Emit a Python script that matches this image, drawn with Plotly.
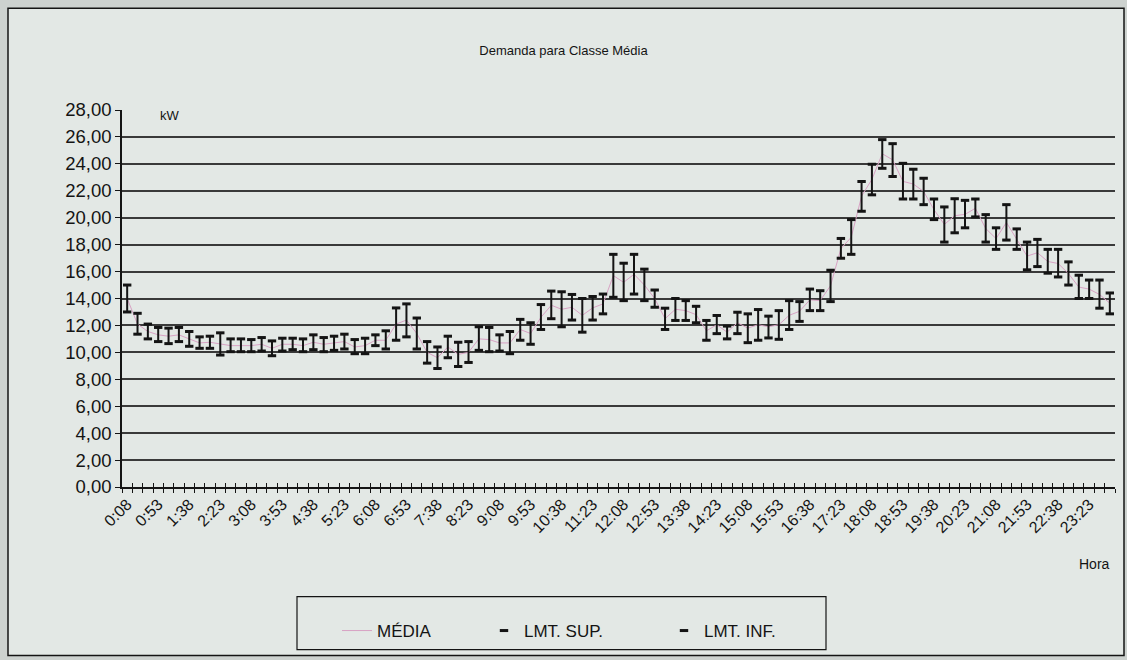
import plotly.graph_objects as go

# Categorias: horários de medição a cada 15 minutos
horas = [
    "0:08", "0:23", "0:38", "0:53", "1:08", "1:23", "1:38", "1:53", "2:08", "2:23", "2:38", "2:53",
    "3:08", "3:23", "3:38", "3:53", "4:08", "4:23", "4:38", "4:53", "5:08", "5:23", "5:38", "5:53",
    "6:08", "6:23", "6:38", "6:53", "7:08", "7:23", "7:38", "7:53", "8:08", "8:23", "8:38", "8:53",
    "9:08", "9:23", "9:38", "9:53", "10:08", "10:23", "10:38", "10:53", "11:08", "11:23", "11:38", "11:53",
    "12:08", "12:23", "12:38", "12:53", "13:08", "13:23", "13:38", "13:53", "14:08", "14:23", "14:38", "14:53",
    "15:08", "15:23", "15:38", "15:53", "16:08", "16:23", "16:38", "16:53", "17:08", "17:23", "17:38", "17:53",
    "18:08", "18:23", "18:38", "18:53", "19:08", "19:23", "19:38", "19:53", "20:08", "20:23", "20:38", "20:53",
    "21:08", "21:23", "21:38", "21:53", "22:08", "22:23", "22:38", "22:53", "23:08", "23:23", "23:38", "23:53",
]

# Rótulos exibidos no eixo horizontal (a cada 45 minutos)
rotulos_x = [
    "0:08", "0:53", "1:38", "2:23", "3:08", "3:53", "4:38", "5:23", "6:08", "6:53", "7:38", "8:23",
    "9:08", "9:53", "10:38", "11:23", "12:08", "12:53", "13:38", "14:23", "15:08", "15:53", "16:38",
    "17:23", "18:08", "18:53", "19:38", "20:23", "21:08", "21:53", "22:38", "23:23",
]

# Limite superior da demanda (kW)
lmt_sup = [
    15.00, 12.90, 12.10, 11.85, 11.80, 11.85, 11.55, 11.15, 11.20, 11.45, 11.00, 11.00,
    10.95, 11.10, 10.85, 11.05, 11.05, 11.00, 11.30, 11.10, 11.20, 11.35, 10.95, 11.05,
    11.30, 11.60, 13.30, 13.60, 12.55, 10.80, 10.40, 11.20, 10.75, 10.80, 11.90, 11.85,
    11.30, 11.55, 12.45, 12.20, 13.55, 14.55, 14.50, 14.30, 14.00, 14.15, 14.33, 17.28,
    16.62, 17.28, 16.18, 14.63, 13.28, 14.00, 13.84, 13.42, 12.37, 12.74, 11.95, 12.98,
    12.86, 13.18, 12.69, 13.10, 13.84, 13.77, 14.70, 14.58, 16.10, 18.46, 19.86, 22.69,
    23.97, 25.80, 25.50, 24.04, 23.60, 22.93, 21.39, 20.80, 21.41, 21.29, 21.39, 20.23,
    19.25, 20.97, 19.17, 18.19, 18.39, 17.65, 17.65, 16.72, 15.73, 15.37, 15.37, 14.41,
]

# Limite inferior da demanda (kW)
lmt_inf = [
    13.00, 11.35, 11.00, 10.80, 10.65, 10.80, 10.45, 10.30, 10.30, 9.80, 10.05, 10.05,
    10.05, 10.10, 9.75, 10.10, 10.20, 10.05, 10.20, 10.05, 10.15, 10.25, 9.90, 9.90,
    10.50, 10.25, 10.90, 11.15, 10.25, 9.20, 8.80, 9.60, 8.95, 9.25, 10.15, 10.05,
    10.10, 9.90, 10.90, 10.60, 11.70, 12.50, 11.90, 12.40, 11.50, 12.40, 12.86, 14.09,
    13.84, 14.33, 13.84, 13.35, 11.70, 12.37, 12.37, 12.20, 10.90, 11.39, 11.00, 11.39,
    10.72, 10.90, 11.07, 10.97, 11.70, 12.30, 13.10, 13.10, 13.77, 16.99, 17.28, 20.48,
    21.70, 23.67, 23.06, 21.39, 21.39, 20.97, 19.86, 18.19, 18.88, 19.25, 20.06, 18.19,
    17.65, 18.34, 17.65, 16.13, 16.37, 15.88, 15.60, 15.00, 14.00, 14.00, 13.28, 12.86,
]

# Demanda média (kW)
media = [
    14.00, 12.10, 11.55, 11.30, 11.20, 11.30, 11.00, 10.70, 10.75, 10.60, 10.50, 10.50,
    10.50, 10.60, 10.30, 10.60, 10.60, 10.50, 10.75, 10.60, 10.70, 10.80, 10.40, 10.50,
    10.90, 10.90, 12.10, 12.40, 11.40, 10.00, 9.60, 10.40, 9.85, 10.00, 11.00, 10.95,
    10.70, 10.70, 11.70, 11.40, 12.60, 13.50, 13.20, 13.35, 12.75, 13.30, 13.60, 15.70,
    15.20, 15.80, 15.00, 14.00, 12.50, 13.20, 13.10, 12.80, 11.60, 12.05, 11.50, 12.20,
    11.80, 12.05, 11.90, 12.05, 12.75, 13.05, 13.90, 13.85, 14.95, 17.70, 18.55, 21.60,
    22.85, 24.75, 24.30, 22.70, 22.50, 21.95, 20.60, 19.50, 20.15, 20.25, 20.70, 19.20,
    18.45, 19.65, 18.40, 17.15, 17.40, 16.75, 16.60, 15.85, 14.85, 14.70, 14.30, 13.65,
]

marcas_y = [0, 2, 4, 6, 8, 10, 12, 14, 16, 18, 20, 22, 24, 26, 28]
grade_y = [2, 4, 6, 8, 10, 12, 14, 16, 18, 20, 22, 24, 26]

# Geometria da página (pixels)
W, H = 1127, 660
ML, MR, MT, MB = 122, 12, 110, 172
PW = W - ML - MR
PH = H - MT - MB


def px_x(px):
    return (px - ML) / PW


def px_y(py):
    return (H - MB - py) / PH


FONTE = "Liberation Sans, Arial, sans-serif"
PRETO = "#141414"
FUNDO = "#e3e8e5"

fig = go.Figure()

fig.add_trace(go.Scatter(
    x=horas, y=media, name="MÉDIA", mode="lines",
    line=dict(color="#d8a2c4", width=1),
    legendwidth=102, hoverinfo="skip",
))

# Linhas verticais entre o limite inferior e o superior
hl_x, hl_y = [], []
for h, lo, hi in zip(horas, lmt_inf, lmt_sup):
    hl_x += [h, h, None]
    hl_y += [lo, hi, None]
fig.add_trace(go.Scatter(
    x=hl_x, y=hl_y, mode="lines", xaxis="x2", yaxis="y",
    line=dict(color=PRETO, width=2), showlegend=False, hoverinfo="skip",
))

fig.add_trace(go.Scatter(
    x=horas, y=lmt_sup, name="LMT. SUP.", mode="markers",
    marker=dict(symbol="line-ew", size=6, color=PRETO, line=dict(color=PRETO, width=3)),
    legendwidth=135, hoverinfo="skip",
))
fig.add_trace(go.Scatter(
    x=horas, y=lmt_inf, name="LMT. INF.", mode="markers",
    marker=dict(symbol="line-ew", size=6, color=PRETO, line=dict(color=PRETO, width=3)),
    legendwidth=90, hoverinfo="skip",
))

ticktext = [h if h in rotulos_x else "" for h in horas]

fig.update_layout(
    width=W, height=H,
    margin=dict(l=ML, r=MR, t=MT, b=MB, pad=0),
    paper_bgcolor="#cdd2cf",
    plot_bgcolor="rgba(0,0,0,0)",
    separators=",.",
    font=dict(family=FONTE, color=PRETO, size=15),
    title=dict(
        text="Demanda para Classe Média", x=0.5, xref="container", xanchor="center",
        y=1 - 50 / H, yref="container", yanchor="middle",
        font=dict(family=FONTE, size=13, color=PRETO),
    ),
    xaxis=dict(
        type="category", categoryorder="array", categoryarray=horas,
        range=[-0.5, len(horas) - 0.5],
        tickmode="array", tickvals=horas, ticktext=ticktext,
        tickson="boundaries", ticks="outside", ticklen=4, tickwidth=1, tickcolor=PRETO,
        tickangle=-45, tickfont=dict(size=16, family=FONTE, color=PRETO),
        showline=True, linecolor=PRETO, linewidth=1.5,
        showgrid=False, zeroline=False, fixedrange=True,
    ),
    xaxis2=dict(
        type="category", categoryorder="array", categoryarray=horas,
        overlaying="x", matches="x", anchor="y", side="bottom",
        tickmode="array", tickvals=horas, ticktext=[""] * len(horas),
        tickson="boundaries", ticks="inside", ticklen=4, tickwidth=1, tickcolor=PRETO,
        showticklabels=False, showline=False, showgrid=False, zeroline=False,
    ),
    yaxis=dict(
        range=[0, 28], tickmode="array", tickvals=marcas_y, tickformat=".2f",
        ticks="outside", ticklen=5, tickwidth=1, tickcolor=PRETO,
        tickfont=dict(size=18.5, family=FONTE, color=PRETO),
        showline=True, linecolor=PRETO, linewidth=1.5,
        showgrid=False, zeroline=False, fixedrange=True,
        minor=dict(tickmode="array", tickvals=grade_y, showgrid=True,
                   gridcolor="#3a3a3a", gridwidth=1.5, ticks=""),
    ),
    legend=dict(
        orientation="h", x=px_x(337), xanchor="left", y=px_y(631), yanchor="middle",
        bgcolor="rgba(0,0,0,0)", borderwidth=0,
        font=dict(family=FONTE, size=17, color=PRETO),
    ),
    annotations=[
        dict(text="kW", xref="paper", yref="paper", x=px_x(158), y=px_y(116),
             xanchor="left", yanchor="middle", showarrow=False,
             font=dict(family=FONTE, size=13, color=PRETO)),
        dict(text="Hora", xref="paper", yref="paper", x=px_x(1112), y=px_y(565),
             xanchor="right", yanchor="middle", showarrow=False,
             font=dict(family=FONTE, size=14, color=PRETO)),
    ],
    shapes=[
        dict(type="rect", xref="paper", yref="paper", layer="below",
             x0=px_x(8), x1=px_x(1124), y0=px_y(657), y1=px_y(8),
             fillcolor=FUNDO, line=dict(color=PRETO, width=1.5)),
        dict(type="rect", xref="paper", yref="paper", layer="above",
             x0=px_x(297), x1=px_x(826), y0=px_y(651), y1=px_y(598),
             fillcolor="rgba(0,0,0,0)", line=dict(color=PRETO, width=1.2)),
    ],
)

fig.write_html("out.html")
